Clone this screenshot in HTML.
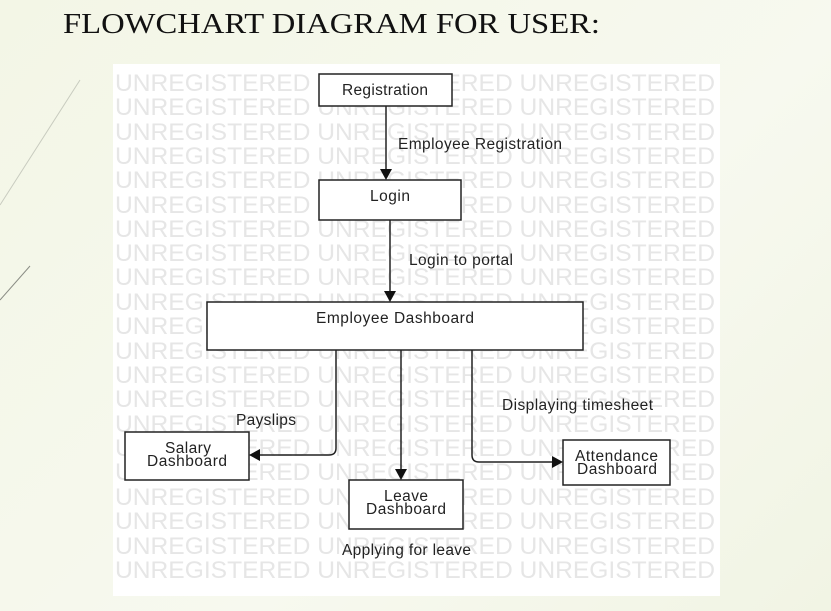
<!DOCTYPE html>
<html><head><meta charset="utf-8"><style>
html,body{margin:0;padding:0;width:831px;height:611px;overflow:hidden;background:linear-gradient(135deg,#f3f6e6,#f7f9ef 60%,#f1f4e4);}
svg{position:absolute;left:0;top:0}
</style></head><body>
<svg width="831" height="611" xmlns="http://www.w3.org/2000/svg">
<line x1="0" y1="205" x2="80" y2="80" stroke="#c8cbbf" stroke-width="1"/>
<line x1="0" y1="300" x2="30" y2="266" stroke="#8a8d85" stroke-width="1"/>
<text x="63" y="33" font-family="Liberation Serif, serif" font-size="28" fill="#111" textLength="537" lengthAdjust="spacingAndGlyphs">FLOWCHART DIAGRAM FOR USER:</text>
<rect x="113" y="64" width="607" height="532" fill="#fff"/>
<g font-family="Liberation Sans, sans-serif" font-size="24" fill="#e6e6e6">
<text x="115" y="91" textLength="600" lengthAdjust="spacingAndGlyphs">UNREGISTERED UNREGISTERED UNREGISTERED</text>
<text x="115" y="115" textLength="600" lengthAdjust="spacingAndGlyphs">UNREGISTERED UNREGISTERED UNREGISTERED</text>
<text x="115" y="140" textLength="600" lengthAdjust="spacingAndGlyphs">UNREGISTERED UNREGISTERED UNREGISTERED</text>
<text x="115" y="164" textLength="600" lengthAdjust="spacingAndGlyphs">UNREGISTERED UNREGISTERED UNREGISTERED</text>
<text x="115" y="188" textLength="600" lengthAdjust="spacingAndGlyphs">UNREGISTERED UNREGISTERED UNREGISTERED</text>
<text x="115" y="213" textLength="600" lengthAdjust="spacingAndGlyphs">UNREGISTERED UNREGISTERED UNREGISTERED</text>
<text x="115" y="237" textLength="600" lengthAdjust="spacingAndGlyphs">UNREGISTERED UNREGISTERED UNREGISTERED</text>
<text x="115" y="261" textLength="600" lengthAdjust="spacingAndGlyphs">UNREGISTERED UNREGISTERED UNREGISTERED</text>
<text x="115" y="285" textLength="600" lengthAdjust="spacingAndGlyphs">UNREGISTERED UNREGISTERED UNREGISTERED</text>
<text x="115" y="310" textLength="600" lengthAdjust="spacingAndGlyphs">UNREGISTERED UNREGISTERED UNREGISTERED</text>
<text x="115" y="334" textLength="600" lengthAdjust="spacingAndGlyphs">UNREGISTERED UNREGISTERED UNREGISTERED</text>
<text x="115" y="359" textLength="600" lengthAdjust="spacingAndGlyphs">UNREGISTERED UNREGISTERED UNREGISTERED</text>
<text x="115" y="383" textLength="600" lengthAdjust="spacingAndGlyphs">UNREGISTERED UNREGISTERED UNREGISTERED</text>
<text x="115" y="407" textLength="600" lengthAdjust="spacingAndGlyphs">UNREGISTERED UNREGISTERED UNREGISTERED</text>
<text x="115" y="432" textLength="600" lengthAdjust="spacingAndGlyphs">UNREGISTERED UNREGISTERED UNREGISTERED</text>
<text x="115" y="456" textLength="600" lengthAdjust="spacingAndGlyphs">UNREGISTERED UNREGISTERED UNREGISTERED</text>
<text x="115" y="480" textLength="600" lengthAdjust="spacingAndGlyphs">UNREGISTERED UNREGISTERED UNREGISTERED</text>
<text x="115" y="505" textLength="600" lengthAdjust="spacingAndGlyphs">UNREGISTERED UNREGISTERED UNREGISTERED</text>
<text x="115" y="529" textLength="600" lengthAdjust="spacingAndGlyphs">UNREGISTERED UNREGISTERED UNREGISTERED</text>
<text x="115" y="554" textLength="600" lengthAdjust="spacingAndGlyphs">UNREGISTERED UNREGISTERED UNREGISTERED</text>
<text x="115" y="578" textLength="600" lengthAdjust="spacingAndGlyphs">UNREGISTERED UNREGISTERED UNREGISTERED</text>
</g>
<g fill="#fff" stroke="#222" stroke-width="1.5">
<rect x="319" y="74" width="133" height="32"/>
<rect x="319" y="180" width="142" height="40"/>
<rect x="207" y="302" width="376" height="48"/>
<rect x="125" y="432" width="124" height="48"/>
<rect x="349" y="480" width="114" height="49"/>
<rect x="563" y="440" width="107" height="45"/>
</g>
<g fill="none" stroke="#222" stroke-width="1.5">
<line x1="386" y1="106" x2="386" y2="170"/>
<line x1="390" y1="220" x2="390" y2="292"/>
<path d="M336 350 V448 Q336 455 329 455 H259"/>
<line x1="401" y1="350" x2="401" y2="470"/>
<path d="M472 350 V455 Q472 462 479 462 H553"/>
</g>
<g fill="#111">
<polygon points="380,169 392,169 386,180"/>
<polygon points="384,291 396,291 390,302"/>
<polygon points="260,449 260,461 249,455"/>
<polygon points="395,469 407,469 401,480"/>
<polygon points="552,456 552,468 563,462"/>
</g>
<g font-family="Liberation Sans, sans-serif" font-size="15.5" fill="#222" lengthAdjust="spacingAndGlyphs">
<text x="342" y="95" textLength="86">Registration</text>
<text x="370" y="201" textLength="40">Login</text>
<text x="316" y="323" textLength="158">Employee Dashboard</text>
<text x="165" y="453" textLength="46">Salary</text>
<text x="147" y="466" textLength="80">Dashboard</text>
<text x="384" y="501" textLength="44">Leave</text>
<text x="366" y="514" textLength="80">Dashboard</text>
<text x="575" y="461" textLength="83">Attendance</text>
<text x="577" y="474" textLength="80">Dashboard</text>
<text x="398" y="149" textLength="164">Employee Registration</text>
<text x="409" y="265" textLength="104">Login to portal</text>
<text x="236" y="425" textLength="60">Payslips</text>
<text x="502" y="410" textLength="151">Displaying timesheet</text>
<text x="342" y="555" textLength="129">Applying for leave</text>
</g>
</svg>
</body></html>
